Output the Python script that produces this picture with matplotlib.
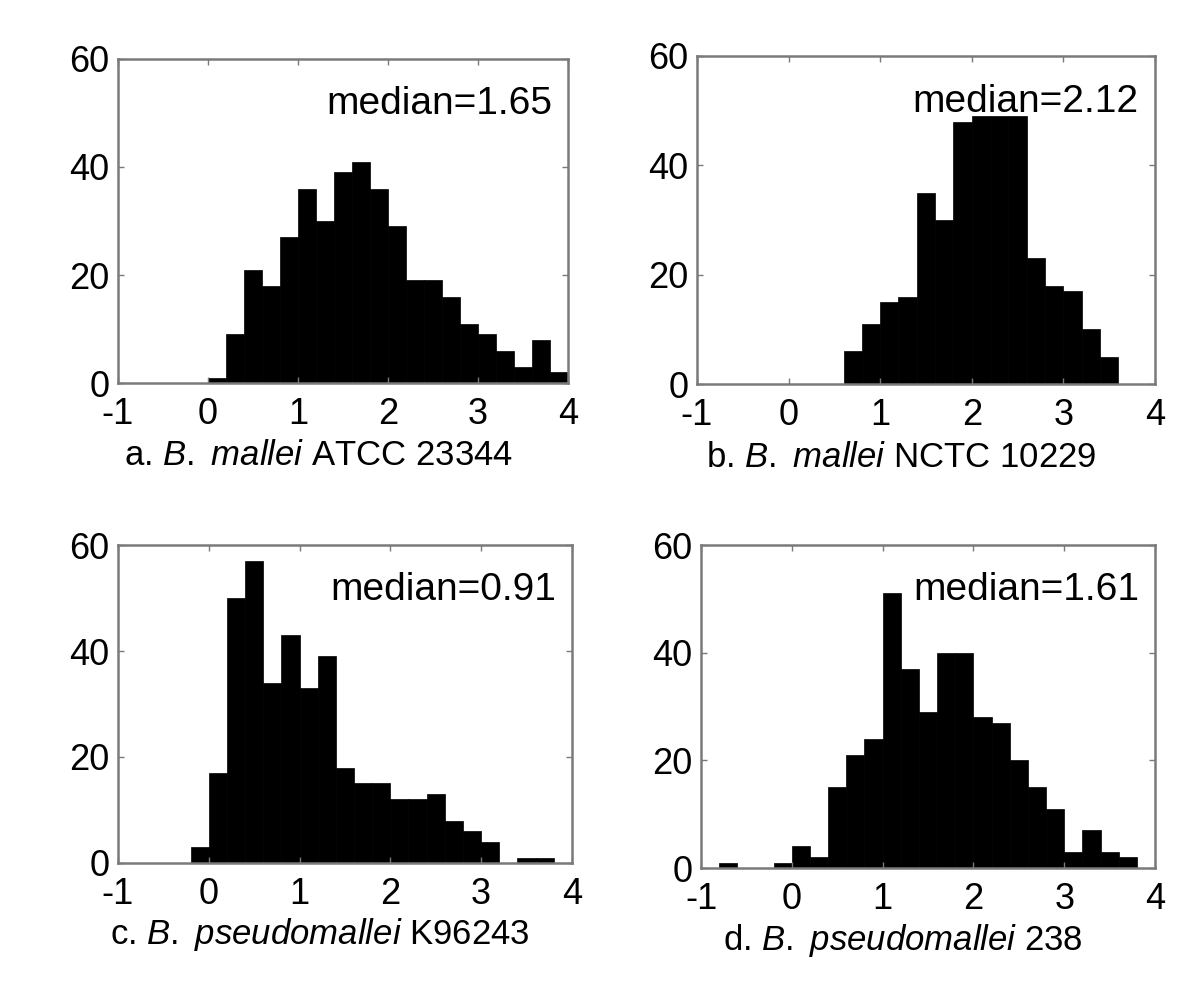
import matplotlib
matplotlib.use('Agg')
import matplotlib.pyplot as plt

plt.rcParams['font.family'] = ['Liberation Sans', 'DejaVu Sans']
plt.rcParams['mathtext.fontset'] = 'custom'
plt.rcParams['mathtext.rm'] = 'Liberation Sans'
plt.rcParams['mathtext.it'] = 'Liberation Sans:italic'

bin_width = 0.2

# left edge of first bin, then counts per bin
a_start = 0.0
a_counts = [1, 9, 21, 18, 27, 36, 30, 39, 41, 36, 29, 19, 19, 16, 11, 9, 6, 3, 8, 2]
b_start = 0.6
b_counts = [6, 11, 15, 16, 35, 30, 48, 49, 49, 49, 23, 18, 17, 10, 5]
c_start = -0.2
c_counts = [3, 17, 50, 57, 34, 43, 33, 39, 18, 15, 15, 12, 12, 13, 8, 6, 4, 0, 1, 1]
d_start = -0.8
d_counts = [1, 0, 0, 1, 4, 2, 15, 21, 24, 51, 37, 29, 40, 40, 28, 27, 20, 15, 11, 3, 7, 3, 2]

medians = ['median=1.65', 'median=2.12', 'median=0.91', 'median=1.61']
captions = [r'a. $\mathit{B.}$ $\mathit{mallei}$ ATCC 23344',
            r'b. $\mathit{B.}$ $\mathit{mallei}$ NCTC 10229',
            r'c. $\mathit{B.}$ $\mathit{pseudomallei}$ K96243',
            r'd. $\mathit{B.}$ $\mathit{pseudomallei}$ 238']
x_ticks = [-1, 0, 1, 2, 3, 4]
y_ticks = [0, 20, 40, 60]

panels = [(a_start, a_counts), (b_start, b_counts), (c_start, c_counts), (d_start, d_counts)]
rects = [[0.0983, 0.6189, 0.375, 0.3224],
         [0.5808, 0.6179, 0.3817, 0.3264],
         [0.0983, 0.1413, 0.3783, 0.3164],
         [0.5842, 0.1363, 0.3783, 0.3214]]

fig = plt.figure(figsize=(12, 10.05), dpi=100)
frame = '#7a7a7a'

for (start, counts), rect, med, cap in zip(panels, rects, medians, captions):
    ax = fig.add_axes(rect)
    lefts = [start + i * bin_width for i in range(len(counts))]
    ax.bar(lefts, counts, width=bin_width, align='edge', color='black', edgecolor='black', linewidth=0.5)
    ax.set_xlim(-1, 4)
    ax.set_ylim(0, 60)
    ax.set_xticks(x_ticks)
    ax.set_xticklabels([str(t) for t in x_ticks])
    ax.set_yticks(y_ticks)
    ax.tick_params(direction='in', length=4, width=1, color=frame, labelsize=26,
                   top=True, right=True)
    ax.tick_params(axis='x', pad=10)
    ax.tick_params(axis='y', pad=6)
    for s in ax.spines.values():
        s.set_color(frame)
        s.set_linewidth(1.8)
    ax.text(0.965, 0.86, med, transform=ax.transAxes, ha='right', va='center', fontsize=28)
    ax.text(0.445, -0.225, cap, transform=ax.transAxes, ha='center', va='center', fontsize=25)

fig.savefig('out.png', dpi=100)
